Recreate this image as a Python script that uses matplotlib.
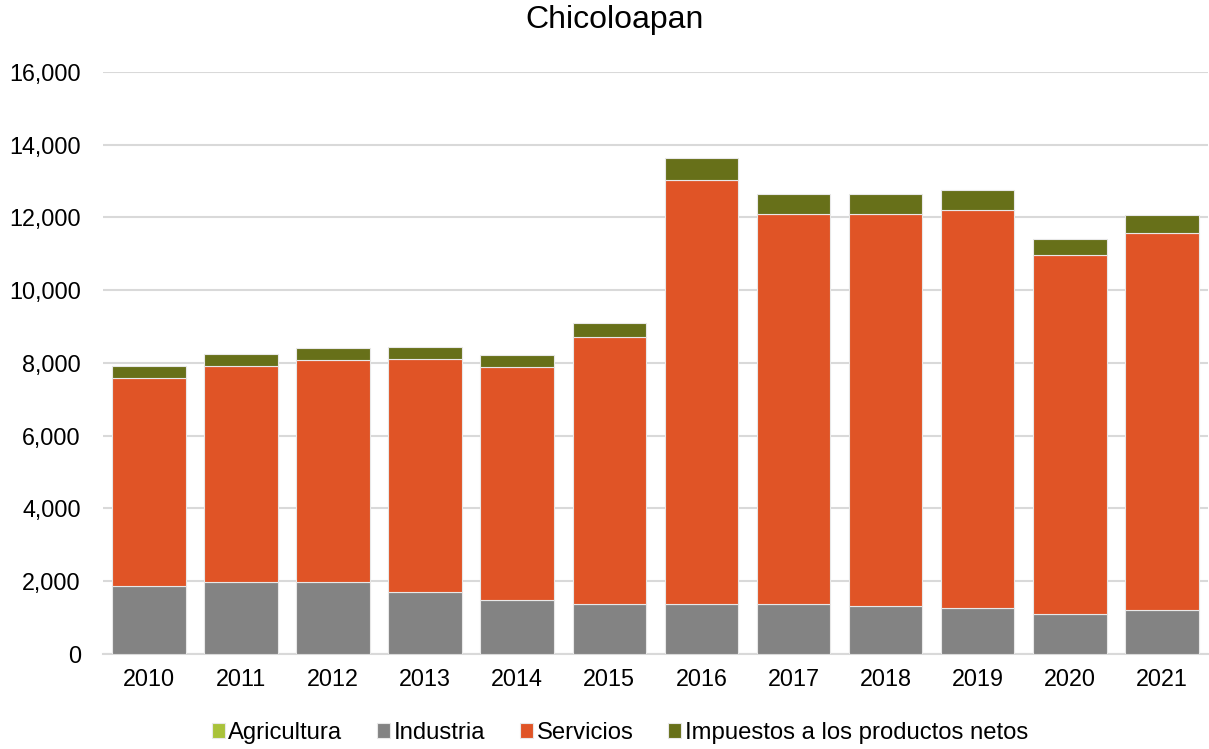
import numpy as np
import matplotlib.pyplot as plt

plt.rcParams['font.family'] = ['Liberation Sans', 'DejaVu Sans']

# 01 Data (miles de pesos aprox.)
Years = ['2010', '2011', '2012', '2013', '2014', '2015',
         '2016', '2017', '2018', '2019', '2020', '2021']
Agricultura = [8, 8, 8, 8, 8, 8, 8, 8, 8, 8, 8, 8]
Industria = [1850, 1960, 1960, 1680, 1470, 1370, 1370, 1370, 1320, 1260, 1100, 1210]
Servicios = [5720, 5940, 6110, 6420, 6410, 7330, 11660, 10720, 10770, 10940, 9860, 10360]
Impuestos = [330, 330, 340, 340, 340, 390, 600, 550, 550, 550, 440, 500]

Series = [('Agricultura', Agricultura, '#a9c23a'),
          ('Industria', Industria, '#838383'),
          ('Servicios', Servicios, '#e05426'),
          ('Impuestos a los productos netos', Impuestos, '#677019')]

# 02 Plot
Figure, Axes = plt.subplots(1, 1, figsize=(12.09, 7.49), dpi=100)
Figure.subplots_adjust(left=0.0852, right=0.999, top=0.904, bottom=0.127)

X = np.arange(len(Years))
Bottom = np.zeros(len(Years))
for Name, Values, Color in Series:
    Axes.bar(X, Values, width=0.8, bottom=Bottom, color=Color, label=Name,
             edgecolor='#e8e8e8', linewidth=0.8, zorder=3)
    Bottom = Bottom + np.array(Values)

Axes.set_ylim(0, 16000)
Axes.set_xlim(-0.5, len(Years) - 0.5)
Axes.set_yticks(np.arange(0, 16001, 2000))
Axes.set_yticklabels(['{:,}'.format(v) for v in range(0, 16001, 2000)])
Axes.set_xticks(X)
Axes.set_xticklabels(Years)
Axes.tick_params(axis='both', labelsize=16.8, length=0, colors='#000000')
Axes.tick_params(axis='x', pad=10)
Axes.tick_params(axis='y', pad=16)
Axes.grid(axis='y', color='#d9d9d9', linewidth=1.5, zorder=0)
for Side in ['top', 'right', 'left']:
    Axes.spines[Side].set_visible(False)
Axes.spines['bottom'].set_color('#d9d9d9')
Axes.spines['bottom'].set_linewidth(1.5)

Figure.suptitle('Chicoloapan', fontsize=23, x=615 / 1209, y=0.993, va='top')

Figure.legend(loc='center', bbox_to_anchor=(620 / 1209, 1 - 733 / 749), ncol=4, frameon=False,
              fontsize=17.2, handlelength=0.55, handleheight=0.55, handletextpad=0.15,
              columnspacing=1.45)

plt.savefig('out.png', dpi=100)
plt.close(Figure)
